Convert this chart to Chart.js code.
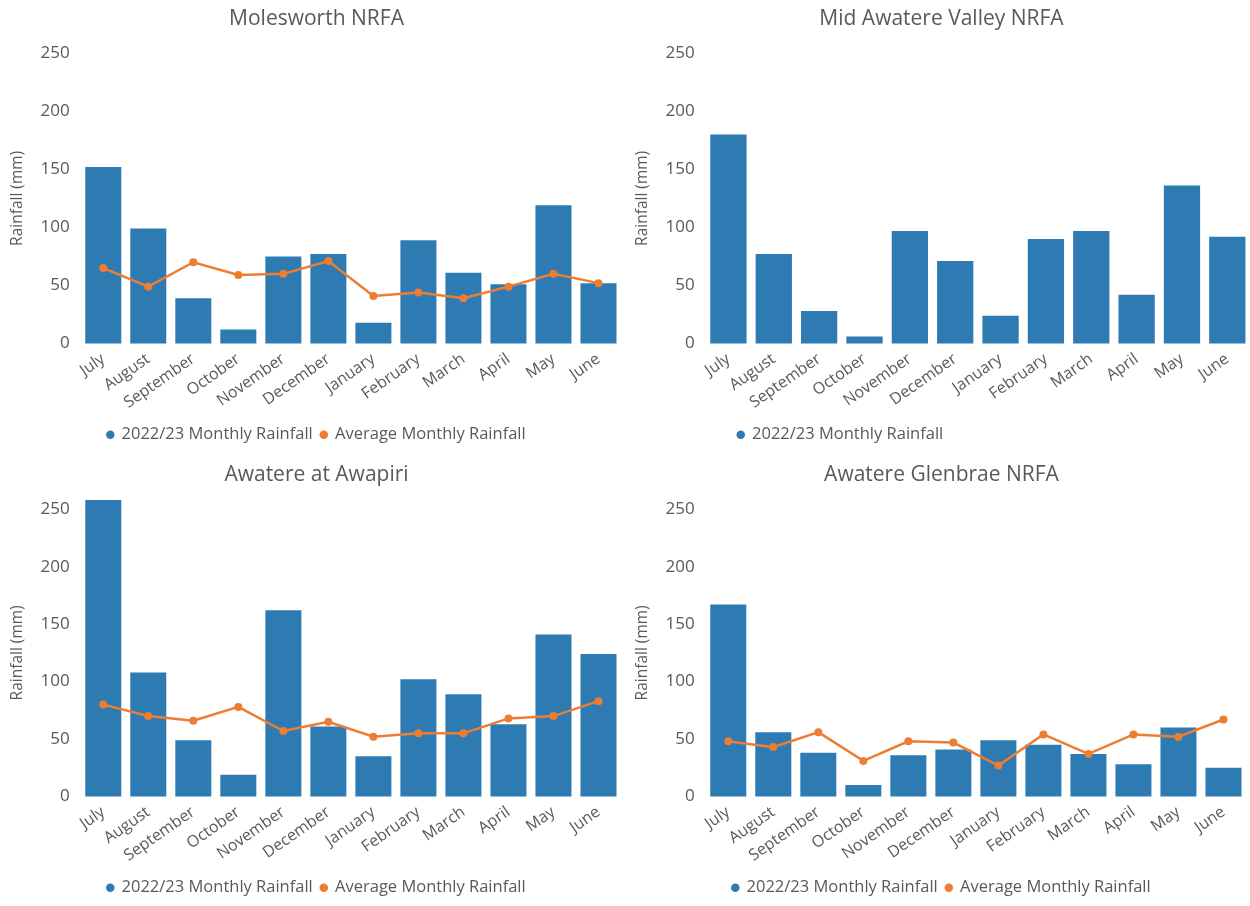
<!DOCTYPE html>
<html>
<head>
<meta charset="utf-8">
<script src="https://cdn.jsdelivr.net/npm/chart.js@4"></script>
<style>
  body { margin: 0; background: #fff; }
  .panel { position: absolute; width: 625px; height: 453px; }
  .low { top: 456px; height: 450px; }
</style>
</head>
<body>
<div class="panel" style="left:0;top:0"><canvas id="molesworthChart"></canvas></div>
<div class="panel" style="left:625px;top:0"><canvas id="midAwatereChart"></canvas></div>
<div class="panel low" style="left:0"><canvas id="awapiriChart"></canvas></div>
<div class="panel low" style="left:625px"><canvas id="glenbraeChart"></canvas></div>
<script>
// Months of the 2022/23 season
const months = ['July', 'August', 'September', 'October', 'November', 'December',
    'January', 'February', 'March', 'April', 'May', 'June'];
const yTicks = [0, 50, 100, 150, 200, 250];

// Values (mm)
const molesworthRain = [152, 99, 39, 12, 75, 77, 18, 89, 61, 51, 119, 52];
const molesworthAvg = [65, 49, 70, 59, 60, 71, 41, 44, 39, 49, 60, 52];

const midAwatereRain = [180, 77, 28, 6, 97, 71, 24, 90, 97, 42, 136, 92];

const awapiriRain = [258, 108, 49, 19, 162, 61, 35, 102, 89, 63, 141, 124];
const awapiriAvg = [80, 70, 66, 78, 57, 65, 52, 55, 55, 68, 70, 83];

const glenbraeRain = [167, 56, 38, 10, 36, 41, 49, 45, 37, 28, 60, 25];
const glenbraeAvg = [48, 43, 56, 31, 48, 47, 27, 54, 37, 54, 52, 67];

const barColor = '#2e7bb4';
const lineColor = '#ed7d31';
const textColor = '#595959';
const font = "'Open Sans', 'Segoe UI', sans-serif";

// nudges the single-item legend right, where the reference has it
const legendShift = {
    id: 'legendShift',
    afterLayout(chart, args, opts) {
        if (opts.dx) {
            chart.legend.left += opts.dx;
            chart.legend.right += opts.dx;
        }
    }
};

function rainChart(id, title, rain, avg) {
    var datasets = [{
        type: 'bar',
        label: '2022/23 Monthly Rainfall',
        data: rain,
        backgroundColor: barColor,
        borderWidth: 0,
        categoryPercentage: 0.8,
        barPercentage: 1,
        order: 1,
        clip: false
    }];
    if (avg) {
        datasets.push({
            type: 'line',
            label: 'Average Monthly Rainfall',
            data: avg,
            borderColor: lineColor,
            backgroundColor: lineColor,
            borderWidth: 2.5,
            pointRadius: 4,
            pointBorderWidth: 0,
            tension: 0,
            order: 0
        });
    }

    var ctx = document.getElementById(id).getContext('2d');
    return new Chart(ctx, {
        data: { labels: months, datasets: datasets },
        plugins: [legendShift],
        options: {
            responsive: true,
            maintainAspectRatio: false,
            animation: false,
            layout: { padding: { left: 8, right: 0, top: 6, bottom: 0 } },
            plugins: {
                legendShift: { dx: avg ? 0 : 24 },
                title: {
                    display: true,
                    text: title,
                    color: textColor,
                    font: { family: font, size: 21, weight: 'normal' },
                    padding: { top: 0, bottom: 22 }
                },
                legend: {
                    position: 'bottom',
                    align: avg ? 'center' : 'start',
                    fullSize: !!avg,
                    labels: {
                        usePointStyle: true,
                        pointStyle: 'circle',
                        boxHeight: 6,
                        boxWidth: 6,
                        padding: 8,
                        color: textColor,
                        font: { family: font, size: 16.5 },
                        sort: (a, b) => a.datasetIndex - b.datasetIndex
                    }
                },
                tooltip: { enabled: false }
            },
            scales: {
                x: {
                    grid: { display: false, drawTicks: false },
                    border: { display: false },
                    ticks: {
                        color: textColor,
                        font: { family: font, size: 16 },
                        minRotation: 35,
                        maxRotation: 35,
                        padding: 6
                    }
                },
                y: {
                    min: 0,
                    max: 250,
                    grid: { display: false, drawTicks: false },
                    border: { display: false },
                    afterBuildTicks: axis => { axis.ticks = yTicks.map(v => ({ value: v })); },
                    ticks: {
                        color: textColor,
                        font: { family: font, size: 17 },
                        padding: 11
                    },
                    title: {
                        display: true,
                        text: 'Rainfall (mm)',
                        color: textColor,
                        font: { family: font, size: 15.5 },
                        padding: { top: 0, bottom: 3 }
                    }
                }
            }
        }
    });
}

rainChart('molesworthChart', 'Molesworth NRFA', molesworthRain, molesworthAvg);
rainChart('midAwatereChart', 'Mid Awatere Valley NRFA', midAwatereRain, null);
rainChart('awapiriChart', 'Awatere at Awapiri', awapiriRain, awapiriAvg);
rainChart('glenbraeChart', 'Awatere Glenbrae NRFA', glenbraeRain, glenbraeAvg);
</script>
</body>
</html>
